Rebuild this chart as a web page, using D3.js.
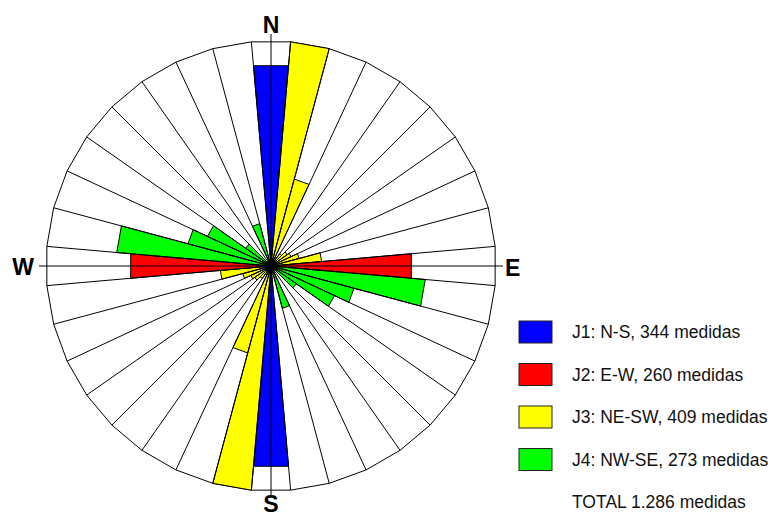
<!DOCTYPE html>
<html>
<head>
<meta charset="utf-8">
<script src="https://cdn.jsdelivr.net/npm/d3@7"></script>
<style>
  body { margin: 0; background: #fff; }
  svg { display: block; font-family: "Liberation Sans", Arial, sans-serif; }
</style>
</head>
<body>
<div id="chart"></div>
<script>
// strike of each 10° class (the opposite direction is mirrored)
const directions = [0, 10, 20, 30, 40, 50, 60, 70, 80, 90, 100, 110, 120, 130, 140, 150, 160, 170];
// joint family each class belongs to
const families = ["J1", "J3", "J3", "J3", "J3", "J3", "J3", "J3", "J3", "J2", "J4", "J4", "J4", "J4", "J4", "J4", "J4", "J4"];
// number of readings per class (estimated from the rose)
const frequencies = [344, 385, 154, 17, 26, 34, 38, 50, 87, 241, 265, 147, 120, 53, 0, 0, 75, 0];

const legendKeys = ["J1", "J2", "J3", "J4"];
const legendLabels = ["J1: N-S, 344 medidas", "J2: E-W, 260 medidas", "J3: NE-SW, 409 medidas", "J4: NW-SE, 273 medidas"];
const totalLabel = "TOTAL 1.286 medidas";
const cardinals = ["N", "E", "S", "W"];

const colors = { J1: "#0000ff", J2: "#ff0000", J3: "#ffff00", J4: "#00ff00" };

const width = 775, height = 518;
const cx = 271, cy = 266, R = 225;

const svg = d3.select("#chart").append("svg")
  .attr("width", width)
  .attr("height", height);

const g = svg.append("g").attr("transform", `translate(${cx},${cy})`);

const rScale = d3.scaleLinear().domain([0, d3.max(frequencies)]).range([0, R]);
const aScale = d3.scaleLinear().domain([0, 360]).range([0, 2 * Math.PI]);

// triangle wedge: centre + two corners at the class limits
const wedge = d3.lineRadial()
  .angle((d) => aScale(d[0]))
  .radius((d) => d[1])
  .curve(d3.curveLinearClosed);

// both ends of every class
const bars = [];
directions.forEach((dir, i) => {
  [dir, dir + 180].forEach((a) => {
    bars.push({ a, v: frequencies[i], fam: families[i] });
  });
});

// outer frame (polygon through the class limits)
const limits = d3.range(5, 365, 10);
g.append("path")
  .attr("d", wedge(limits.map((a) => [a, R])))
  .attr("fill", "#fff")
  .attr("stroke", "#000")
  .attr("stroke-width", 1);

g.append("g").attr("class", "bars")
  .selectAll("path")
  .data(bars.filter((d) => d.v > 0))
  .join("path")
  .attr("d", (d) => wedge([[d.a, 0], [d.a - 5, rScale(d.v)], [d.a + 5, rScale(d.v)]]))
  .attr("fill", (d) => colors[d.fam])
  .attr("stroke", "#000")
  .attr("stroke-width", 1)
  .attr("stroke-linejoin", "miter");

// spokes on the class limits
g.append("g").attr("class", "spokes")
  .selectAll("line")
  .data(limits)
  .join("line")
  .attr("x1", 0).attr("y1", 0)
  .attr("x2", (a) => R * Math.sin(aScale(a)))
  .attr("y2", (a) => -R * Math.cos(aScale(a)))
  .attr("stroke", "#000")
  .attr("stroke-width", 1);

// N-S and E-W axes, a little past the frame
g.append("g").attr("class", "axes")
  .selectAll("line")
  .data([0, 90])
  .join("line")
  .attr("x1", (a) => -(R + 7) * Math.sin(aScale(a)))
  .attr("y1", (a) => (R + 7) * Math.cos(aScale(a)))
  .attr("x2", (a) => (R + 7) * Math.sin(aScale(a)))
  .attr("y2", (a) => -(R + 7) * Math.cos(aScale(a)))
  .attr("stroke", "#000")
  .attr("stroke-width", 1);

g.append("circle").attr("r", 6).attr("fill", "#000");

// cardinal labels
const labelPos = {
  N: { x: 0, y: -233, anchor: "middle" },
  E: { x: 234, y: 10, anchor: "start" },
  S: { x: 0, y: 246, anchor: "middle" },
  W: { x: -237, y: 9, anchor: "end" }
};
g.selectAll("text.card")
  .data(cardinals)
  .join("text")
  .attr("class", "card")
  .attr("x", (d) => labelPos[d].x)
  .attr("y", (d) => labelPos[d].y)
  .attr("text-anchor", (d) => labelPos[d].anchor)
  .attr("font-size", "23px")
  .attr("font-weight", "bold")
  .text((d) => d);

// legend
const legend = svg.append("g").attr("transform", "translate(519,321)");
const item = legend.selectAll("g")
  .data(legendKeys)
  .join("g")
  .attr("transform", (d, i) => `translate(0,${i * 42.5})`);
item.append("rect")
  .attr("width", 33).attr("height", 22)
  .attr("fill", (d) => colors[d])
  .attr("stroke", "#222")
  .attr("stroke-width", 1);
item.append("text")
  .attr("x", 53).attr("y", 17)
  .attr("font-size", "17.5px")
  .attr("fill", "#111")
  .text((d, i) => legendLabels[i]);
legend.append("text")
  .attr("x", 53).attr("y", 4 * 42.5 + 17)
  .attr("font-size", "17.5px")
  .attr("fill", "#111")
  .text(totalLabel);
</script>
</body>
</html>
